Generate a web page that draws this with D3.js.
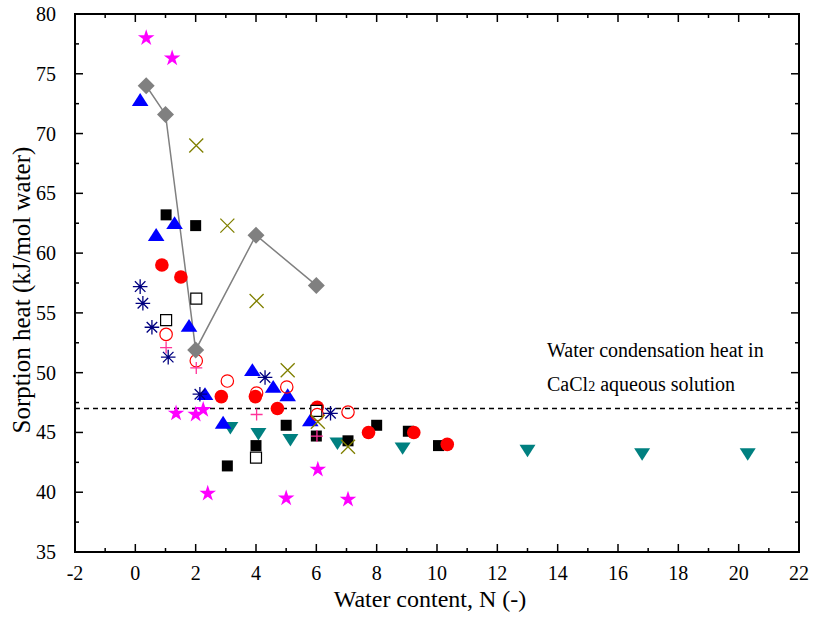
<!DOCTYPE html>
<html>
<head>
<meta charset="utf-8">
<script src="https://cdn.jsdelivr.net/npm/d3@7"></script>
<style>
  body { margin: 0; background: #fff; }
  svg { font-family: "Liberation Serif", "Times New Roman", serif; }
</style>
</head>
<body>
<div id="chart"></div>
<script>
// Data: [N, heat]
const magentaStars = [[0.36, 78.0], [1.22, 76.3], [1.35, 46.6], [2.0, 46.5], [2.25, 46.9],
  [2.4, 39.9], [5.0, 39.5], [6.05, 41.9], [7.05, 39.4]];
const grayDiamonds = [[0.36, 74.0], [1.0, 71.6], [2.0, 51.9], [4.0, 61.5], [6.0, 57.3]];
const blueTriangles = [[0.16, 72.8], [0.69, 61.5], [1.3, 62.5], [1.78, 53.9], [2.31, 48.2],
  [2.91, 45.8], [3.88, 50.2], [4.57, 48.8], [5.05, 48.1], [5.8, 46.0]];
const blackSquares = [[1.02, 63.2], [2.0, 62.3], [3.05, 42.2], [4.0, 43.9], [5.0, 45.6],
  [6.0, 44.7], [7.05, 44.3], [8.0, 45.6], [9.05, 45.1], [10.05, 43.9]];
const openSquares = [[1.02, 54.4], [2.02, 56.2], [4.0, 42.9], [6.0, 46.8]];
const redCircles = [[0.88, 59.0], [1.51, 58.0], [2.85, 48.0], [3.98, 48.0], [4.71, 47.0],
  [6.03, 47.1], [7.73, 45.0], [9.23, 45.0], [10.34, 44.0]];
const openCircles = [[1.02, 53.2], [2.02, 51.0], [3.05, 49.3], [4.02, 48.3], [5.02, 48.8],
  [6.03, 46.5], [7.05, 46.7]];
const pinkPlus = [[1.02, 52.1], [2.02, 50.4], [4.02, 46.5], [6.02, 44.7]];
const navyAsterisks = [[0.16, 57.2], [0.25, 55.8], [0.55, 53.8], [1.09, 51.3], [2.14, 48.2],
  [4.3, 49.6], [6.47, 46.6]];
const oliveCrosses = [[2.02, 69.0], [3.05, 62.3], [4.02, 56.0], [5.05, 50.2], [6.05, 45.9], [7.05, 43.8]];
const tealDown = [[3.15, 45.4], [4.08, 44.9], [5.14, 44.4], [6.7, 44.1], [8.86, 43.7],
  [13.0, 43.5], [16.8, 43.2], [20.3, 43.2]];
const condensationHeat = 47;
const xTicks = d3.range(-2, 23, 2);
const yTicks = d3.range(35, 81, 5);

const W = 813, H = 622;
const margin = { top: 14, right: 14, bottom: 70, left: 75 };
const width = W - margin.left - margin.right;
const height = H - margin.top - margin.bottom;

const svg = d3.select("#chart").append("svg")
  .attr("width", W)
  .attr("height", H);

const g = svg.append("g")
  .attr("transform", `translate(${margin.left},${margin.top})`);

const x = d3.scaleLinear().domain([-2, 22]).range([0, width]);
const y = d3.scaleLinear().domain([35, 80]).range([height, 0]);

// minor ticks
const xMinor = d3.range(-1, 22, 2);
const yMinor = d3.range(37.5, 80, 5);

function tickMarks(sel, vals, len, horiz, pos) {
  sel.selectAll(null).data(vals).enter().append("line")
    .attr("x1", d => horiz ? x(d) : pos)
    .attr("x2", d => horiz ? x(d) : pos + len)
    .attr("y1", d => horiz ? pos : y(d))
    .attr("y2", d => horiz ? pos + len : y(d))
    .attr("stroke", "#000")
    .attr("stroke-width", 1.5);
}
const ticksG = g.append("g");
tickMarks(ticksG, xTicks, -8, true, height);
tickMarks(ticksG, xMinor, -4, true, height);
tickMarks(ticksG, xTicks, 8, true, 0);
tickMarks(ticksG, xMinor, 4, true, 0);
tickMarks(ticksG, yTicks, 8, false, 0);
tickMarks(ticksG, yMinor, 4, false, 0);
tickMarks(ticksG, yTicks, -8, false, width);
tickMarks(ticksG, yMinor, -4, false, width);

// frame
g.append("rect")
  .attr("width", width).attr("height", height)
  .attr("fill", "none").attr("stroke", "#000").attr("stroke-width", 2);

// tick labels
g.append("g").selectAll("text").data(xTicks).enter().append("text")
  .attr("x", d => x(d)).attr("y", height + 28)
  .attr("text-anchor", "middle").attr("font-size", 20)
  .text(d => d);
g.append("g").selectAll("text").data(yTicks).enter().append("text")
  .attr("x", -19).attr("y", d => y(d) + 7)
  .attr("text-anchor", "end").attr("font-size", 20)
  .text(d => d);

// axis titles
svg.append("text")
  .attr("x", 430).attr("y", 607)
  .attr("text-anchor", "middle").attr("font-size", 24)
  .text("Water content, N (-)");
svg.append("text")
  .attr("transform", "translate(30,290) rotate(-90)")
  .attr("text-anchor", "middle").attr("font-size", 25)
  .text("Sorption heat (kJ/mol water)");

// dashed reference line
g.append("line")
  .attr("x1", 0).attr("x2", width)
  .attr("y1", y(condensationHeat)).attr("y2", y(condensationHeat))
  .attr("stroke", "#000").attr("stroke-width", 1.5)
  .attr("stroke-dasharray", "5,4");

g.append("text").attr("font-size", 20).attr("x", 472).attr("y", 343)
  .text("Water condensation heat in");
const line2 = g.append("text").attr("font-size", 20).attr("x", 472).attr("y", 377);
line2.append("tspan").text("CaCl");
line2.append("tspan").attr("font-size", 14).text("2");
line2.append("tspan").text(" aqueous solution");

// marker shapes
const shapes = {
  square: s => `M${-s},${-s}H${s}V${s}H${-s}Z`,
  diamond: s => `M0,${-s}L${s},0L0,${s}L${-s},0Z`,
  up: s => `M0,${-s * 0.85}L${s},${s * 0.7}L${-s},${s * 0.7}Z`,
  down: s => `M0,${s * 0.85}L${s},${-s * 0.7}L${-s},${-s * 0.7}Z`,
  plus: s => `M${-s},0H${s}M0,${-s}V${s}`,
  cross: s => `M${-s},${-s}L${s},${s}M${-s},${s}L${s},${-s}`,
  asterisk: s => `M${-s},0H${s}M0,${-s}V${s}M${-s * 0.72},${-s * 0.72}L${s * 0.72},${s * 0.72}M${-s * 0.72},${s * 0.72}L${s * 0.72},${-s * 0.72}`,
  star: s => d3.symbol(d3.symbolStar, s)()
};

function drawSeries(data, shape, size, fill, stroke, sw) {
  g.append("g").selectAll("path").data(data).enter().append("path")
    .attr("transform", d => `translate(${x(d[0])},${y(d[1])})`)
    .attr("d", shapes[shape](size))
    .attr("fill", fill)
    .attr("stroke", stroke)
    .attr("stroke-width", sw);
}
function drawCircles(data, r, fill, stroke) {
  g.append("g").selectAll("circle").data(data).enter().append("circle")
    .attr("cx", d => x(d[0])).attr("cy", d => y(d[1]))
    .attr("r", r).attr("fill", fill)
    .attr("stroke", stroke).attr("stroke-width", 1.2);
}

// gray line connecting diamonds
g.append("path")
  .datum(grayDiamonds)
  .attr("d", d3.line().x(d => x(d[0])).y(d => y(d[1])))
  .attr("fill", "none").attr("stroke", "#808080").attr("stroke-width", 1.5);

drawSeries(tealDown, "down", 8, "#008080", "none", 0);
drawSeries(blackSquares, "square", 5.5, "#000", "none", 0);
drawCircles(redCircles, 6.8, "#ff0000", "none");
drawSeries(blueTriangles, "up", 8.3, "#0000ff", "none", 0);
drawSeries(openSquares, "square", 5.5, "#fff", "#000", 1.2);
drawCircles(openCircles, 6.2, "none", "#ff0000");
drawSeries(pinkPlus, "plus", 6, "none", "#ff3399", 1.3);
drawSeries(navyAsterisks, "asterisk", 7.3, "none", "#000080", 1.3);
drawSeries(oliveCrosses, "cross", 7, "none", "#808000", 1.3);
drawSeries(magentaStars, "star", 85, "#ff00ff", "none", 0);
drawSeries(grayDiamonds, "diamond", 8.5, "#808080", "none", 0);
</script>
</body>
</html>
